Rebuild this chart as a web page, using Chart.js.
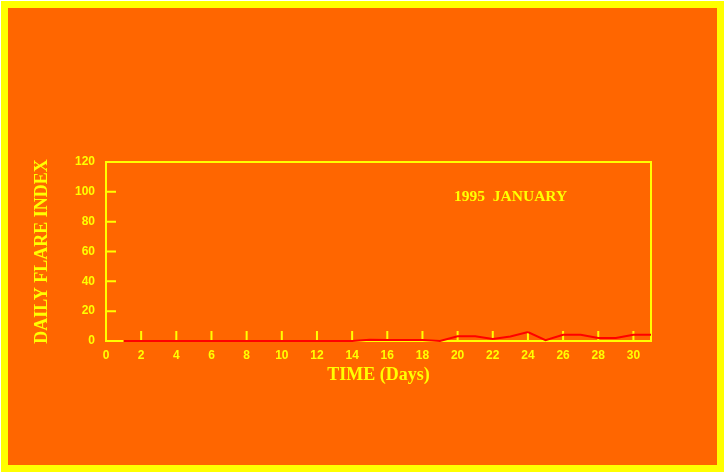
<!DOCTYPE html>
<html>
<head>
<meta charset="utf-8">
<script src="https://cdn.jsdelivr.net/npm/chart.js@4/dist/chart.umd.min.js"></script>
<style>
  html, body { margin: 0; padding: 0; background: #ffffff; }
  canvas { display: block; }
</style>
</head>
<body>
<canvas id="flareChart" width="728" height="475"></canvas>
<script>
// daily flare index, January 1995
const days = [1, 2, 3, 4, 5, 6, 7, 8, 9, 10, 11, 12, 13, 14, 15, 16,
  17, 18, 19, 20, 21, 22, 23, 24, 25, 26, 27, 28, 29, 30, 31];
const flareIndex = [0, 0, 0, 0, 0, 0, 0, 0, 0, 0, 0, 0, 0, 0, 0.8, 0.6,
  0.6, 0.7, 0, 3.2, 3.2, 1.4, 3, 6, 0.5, 4.2, 4.2, 2, 2, 4.2, 4.2];
const xTicks = [0, 2, 4, 6, 8, 10, 12, 14, 16, 18, 20, 22, 24, 26, 28, 30];
const yTicks = [0, 20, 40, 60, 80, 100, 120];
const periodLabel = "1995  JANUARY";

const ORANGE = "#FF6600";
const YELLOW = "#FFFF00";
const RED = "#FF0000";

// background, outer frame, plot box and inward tick marks
const framePlugin = {
  id: "frame",
  beforeDraw(chart) {
    const ctx = chart.ctx;
    ctx.save();
    ctx.fillStyle = YELLOW;
    ctx.fillRect(1, 1, 723, 471);
    ctx.fillStyle = ORANGE;
    ctx.fillRect(8, 8, 709, 457);
    ctx.restore();
  },
  beforeDatasetsDraw(chart) {
    const { ctx, chartArea: a, scales } = chart;
    ctx.save();
    ctx.strokeStyle = YELLOW;
    ctx.lineWidth = 2;
    ctx.strokeRect(a.left, a.top, a.right - a.left, a.bottom - a.top);
    ctx.beginPath();
    xTicks.forEach((v) => {
      if (v === 0) return;
      const px = scales.x.getPixelForValue(v);
      ctx.moveTo(px, a.bottom);
      ctx.lineTo(px, a.bottom - 10);
    });
    yTicks.forEach((v) => {
      if (v === 0 || v === 120) return;
      const py = scales.y.getPixelForValue(v);
      ctx.moveTo(a.left, py);
      ctx.lineTo(a.left + 10, py);
    });
    ctx.stroke();
    ctx.restore();
  },
  afterDraw(chart) {
    const { ctx, scales } = chart;
    ctx.save();
    ctx.fillStyle = YELLOW;
    ctx.font = 'bold 15.5px "Liberation Serif"';
    ctx.textAlign = "left";
    ctx.textBaseline = "alphabetic";
    ctx.fillText(periodLabel, scales.x.getPixelForValue(19.8), scales.y.getPixelForValue(94));
    ctx.restore();
  },
};

new Chart(document.getElementById("flareChart"), {
  type: "line",
  data: {
    datasets: [
      {
        label: "Daily Flare Index",
        data: days.map((d, i) => ({ x: d, y: flareIndex[i] })),
        borderColor: RED,
        backgroundColor: RED,
        borderWidth: 2,
        pointRadius: 0,
        tension: 0,
        clip: false,
      },
    ],
  },
  options: {
    responsive: false,
    devicePixelRatio: 1,
    animation: false,
    layout: { padding: { left: 0, right: 77, top: 162, bottom: 0 } },
    plugins: {
      legend: { display: false },
      tooltip: { enabled: false },
    },
    scales: {
      x: {
        type: "linear",
        min: 0,
        max: 31,
        afterBuildTicks: (scale) => {
          scale.ticks = xTicks.map((v) => ({ value: v }));
        },
        afterFit: (scale) => {
          scale.height = 134;
        },
        grid: { display: false, drawTicks: false },
        border: { display: false },
        ticks: {
          color: YELLOW,
          padding: 7,
          maxRotation: 0,
          autoSkip: false,
          font: { family: "Liberation Sans", size: 12, weight: "bold" },
        },
        title: {
          display: true,
          text: "TIME (Days)",
          color: YELLOW,
          padding: { top: 0, bottom: 89 },
          font: { family: "Liberation Serif", size: 18, weight: "bold" },
        },
      },
      y: {
        min: 0,
        max: 120,
        afterBuildTicks: (scale) => {
          scale.ticks = yTicks.map((v) => ({ value: v }));
        },
        afterFit: (scale) => {
          scale.width = 106;
        },
        grid: { display: false, drawTicks: false },
        border: { display: false },
        ticks: {
          color: YELLOW,
          padding: 11,
          font: { family: "Liberation Sans", size: 12, weight: "bold" },
        },
        title: {
          display: true,
          text: "DAILY FLARE INDEX",
          color: YELLOW,
          padding: { top: 32, bottom: 0 },
          font: { family: "Liberation Serif", size: 18, weight: "bold" },
        },
      },
    },
  },
  plugins: [framePlugin],
});
</script>
</body>
</html>
